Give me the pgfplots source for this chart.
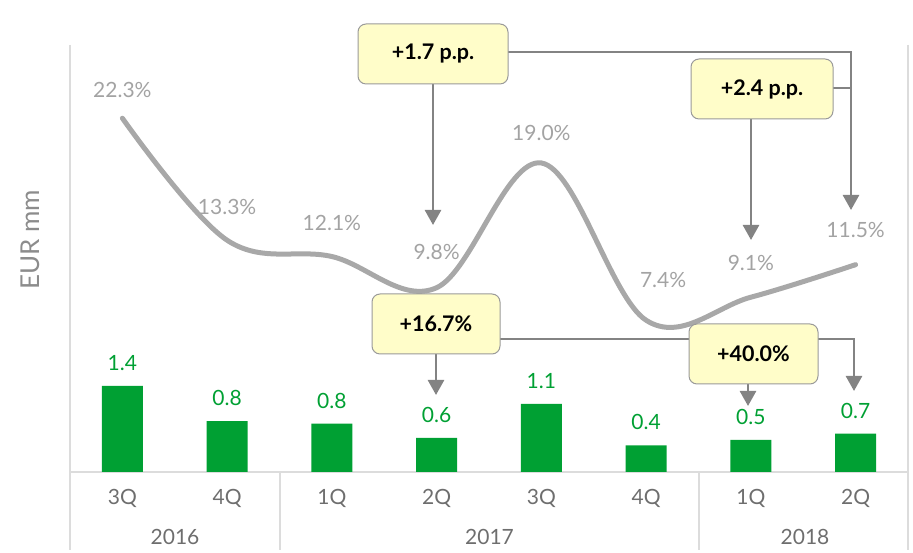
\documentclass[border=0pt]{standalone}
\usepackage{pgfplots}
\pgfplotsset{compat=1.18}
\usepackage{pgfplotstable}
\usepackage{fontspec}
\setmainfont{Lato}
\usetikzlibrary{arrows.meta}
\definecolor{barg}{HTML}{00A033}
\definecolor{lineg}{HTML}{A8A8A8}
\definecolor{labg}{HTML}{A3A3A3}
\definecolor{tickg}{HTML}{6E6E6E}
\definecolor{ylabg}{HTML}{8C8C8C}
\definecolor{gridg}{HTML}{DCDCDC}
\definecolor{boxf}{HTML}{FFFDC9}
\definecolor{boxd}{HTML}{9A9A9A}
\definecolor{arrg}{HTML}{838383}

\pgfplotstableread{
x h lab
0 1.39 1.4
1 0.82 0.8
2 0.78 0.8
3 0.55 0.6
4 1.10 1.1
5 0.43 0.4
6 0.52 0.5
7 0.62 0.7
}\bardata

\pgfplotstableread{
x v dx dy
0 22.3 0 28
1 13.3 0 33
2 12.1 0 34
3 9.8 0 36
4 19.0 0 30
5 7.4 17 40
6 9.1 0 34
7 11.5 0 35
}\linedata

\newcommand{\lbl}{\fontsize{21}{23}\selectfont}
\tikzset{
  box/.style={draw=boxd, fill=boxf, rounded corners=8pt, line width=1pt,
    minimum height=60pt, inner sep=0pt, font=\fontsize{21.5}{23}\selectfont\bfseries},
  arr/.style={draw=arrg, line width=2.6pt, -{Triangle[width=16pt,length=15pt]}},
  conn/.style={draw=arrg, line width=2.6pt}
}

\begin{document}
\begin{tikzpicture}[x=1pt,y=1pt]
\useasboundingbox (-70,-81) rectangle (843,472);

% grid / frame lines
\draw[gridg, line width=2pt] (0,427) -- (0,-78);
\draw[gridg, line width=2pt] (838,427) -- (838,-78);
\draw[gridg, line width=2pt] (0,0) -- (838,0);
\draw[gridg, line width=2pt] (210,0) -- (210,-78);
\draw[gridg, line width=2pt] (629,0) -- (629,-78);

\begin{axis}[at={(0,0)}, anchor=south west,
  width=838pt, height=427pt, scale only axis,
  xmin=-0.5, xmax=7.5, ymin=0, ymax=6.887,
  axis line style={draw=none},
  ytick=\empty,
  xtick={0,...,7},
  xticklabels={3Q,4Q,1Q,2Q,3Q,4Q,1Q,2Q},
  major tick length=0pt,
  xticklabel style={font=\lbl, text=tickg, anchor=center, yshift=-26pt},
  clip=false]
\addplot[ybar, bar width=41pt, bar shift=0pt, fill=barg, draw=none,
  point meta=explicit symbolic,
  nodes near coords,
  every node near coord/.append style={anchor=center, yshift=23pt, text=barg,
    font=\lbl}]
  table[x=x, y=h, meta=lab] {\bardata};
\end{axis}

\begin{axis}[at={(0,0)}, anchor=south west,
  width=838pt, height=427pt, scale only axis,
  xmin=-0.5, xmax=7.5, ymin=-3.79, ymax=27.70,
  hide axis, clip=false,
  /pgf/number format/assume math mode=true]
\addplot[lineg, line width=5pt, smooth, tension=0.6, line cap=round, mark=none,
  nodes near coords={\pgfmathprintnumber[fixed,fixed zerofill,precision=1,assume math mode=true]{\pgfplotspointmeta}\%},
  visualization depends on={\thisrow{dx}\as\dx},
  visualization depends on={\thisrow{dy}\as\dy},
  every node near coord/.append style={anchor=center, xshift=\dx pt, yshift=\dy pt,
    text=labg, font=\lbl}]
  table[x=x, y=v] {\linedata};
\end{axis}

% year labels and y label
\node[text=tickg, font=\lbl] at (105,-65) {2016};
\node[text=tickg, font=\lbl] at (419.5,-65) {2017};
\node[text=tickg, font=\lbl] at (735,-65) {2018};
\node[rotate=90, text=ylabg, font=\fontsize{26}{28}\selectfont] at (-40,232) {EUR mm};

% connectors
\draw[arr] (363,418) -- (363,247);
\draw[arr] (363,420) -| (781,262);
\draw[arr] (681,383) -- (681,232);
\draw[conn] (692,384) -- (781,384);
\draw[arr] (366,148) -- (366,77);
\draw[arr] (366,133) -| (784,81);
\draw[arr] (678,118) -- (678,66);

% boxes
\node[box, minimum width=150pt] at (363,418) {+1.7 p.p.};
\node[box, minimum width=142pt] at (692,383) {+2.4 p.p.};
\node[box, minimum width=128pt] at (366,148) {+16.7\%};
\node[box, minimum width=129pt] at (683.5,118) {+40.0\%};
\end{tikzpicture}
\end{document}
